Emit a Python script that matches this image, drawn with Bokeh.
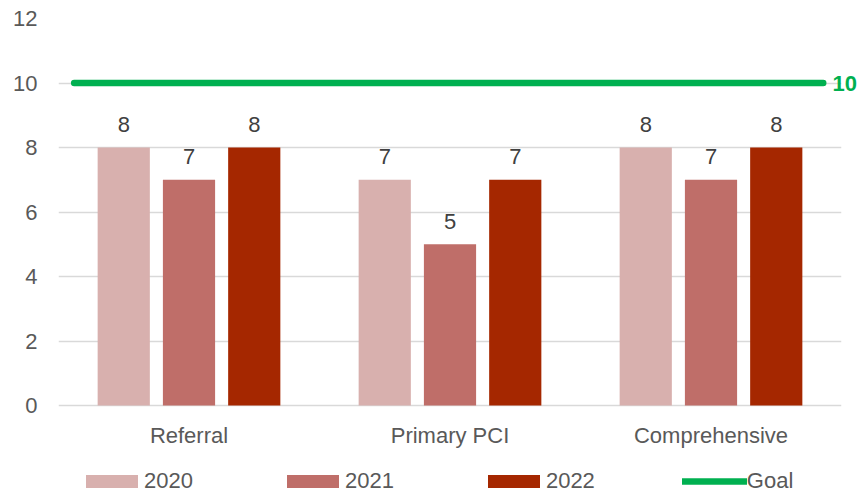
from bokeh.plotting import figure
from bokeh.models import (ColumnDataSource, FactorRange, Legend, LegendItem, Range1d,
                          FixedTicker, LinearAxis)
from bokeh.transform import dodge
from bokeh.core.properties import value
from bokeh.embed import file_html
from bokeh.resources import INLINE

categories = ["Referral", "Primary PCI", "Comprehensive"]
years = ["2020", "2021", "2022"]
values_2020 = [8, 7, 8]
values_2021 = [7, 5, 7]
values_2022 = [8, 7, 8]
goal_value = 10
goal_label = "Goal"
y_ticks = [0, 2, 4, 6, 8, 10, 12]

bar_colors = ["#D8B0AE", "#BF6E69", "#A52700"]
goal_color = "#00B050"
FONT = "Liberation Sans"

# layout (pixels)
W, H = 859, 494
TOP, LEFT, RIGHT = 18, 58, 16
PLOT_H = 387            # height of the 0..12 value area
BELOW = H - TOP - PLOT_H  # space below zero line used for category labels + legend

src = ColumnDataSource(data=dict(
    cat=categories,
    zero=[0] * len(categories),
    v2020=values_2020, v2021=values_2021, v2022=values_2022,
    t2020=[str(v) for v in values_2020],
    t2021=[str(v) for v in values_2021],
    t2022=[str(v) for v in values_2022],
))

y_start = -y_ticks[-1] * BELOW / PLOT_H
p = figure(width=W, height=H, x_range=FactorRange(*categories),
           y_range=Range1d(y_start, y_ticks[-1]),
           x_axis_location=None,
           output_backend="svg", toolbar_location=None,
           min_border_top=TOP, min_border_left=LEFT, min_border_right=RIGHT,
           min_border_bottom=0)
p.outline_line_color = None
p.background_fill_color = "white"

offsets = [-0.25, 0.0, 0.25]
renderers = []
for yr, off, col in zip(years, offsets, bar_colors):
    r = p.vbar(x=dodge("cat", off, range=p.x_range), top="v" + yr, bottom=0,
               width=0.2, source=src, fill_color=col, line_color=None)
    renderers.append(r)
    p.text(x=dodge("cat", off, range=p.x_range), y="v" + yr, text="t" + yr,
           source=src, text_align="center", text_baseline="alphabetic",
           y_offset=-23, text_font=value(FONT), text_font_size="22px",
           text_color="#404040")

# category labels under the zero line
p.text(x="cat", y="zero", text="cat", source=src, text_align="center",
       text_baseline="alphabetic", y_offset=30, text_font=value(FONT),
       text_font_size="22px", text_color="#595959")

goal_r = p.line(x=[(categories[0], -0.44), (categories[-1], 0.43)],
                y=[goal_value, goal_value], line_color=goal_color,
                line_width=6.5, line_cap="round")

# goal value shown as a right-hand axis label
goal_axis = LinearAxis(ticker=FixedTicker(ticks=[goal_value]))
goal_axis.axis_line_color = None
goal_axis.major_tick_line_color = None
goal_axis.minor_tick_line_color = None
goal_axis.major_tick_out = 0
goal_axis.major_label_standoff = -9
goal_axis.major_label_text_font = FONT
goal_axis.major_label_text_font_size = "22px"
goal_axis.major_label_text_font_style = "bold"
goal_axis.major_label_text_color = goal_color
p.add_layout(goal_axis, "right")

yax = p.yaxis[0]
yax.ticker = FixedTicker(ticks=y_ticks)
yax.axis_line_color = None
yax.major_tick_line_color = None
yax.minor_tick_line_color = None
yax.major_tick_out = 0
yax.major_label_standoff = 21
yax.major_label_text_font = FONT
yax.major_label_text_font_size = "22px"
yax.major_label_text_color = "#595959"

p.xgrid.grid_line_color = None
p.ygrid.ticker = FixedTicker(ticks=y_ticks)
p.ygrid.grid_line_color = "#D9D9D9"
p.ygrid.grid_line_width = 1.3

items = [LegendItem(label=yr, renderers=[r]) for yr, r in zip(years, renderers)]
items.append(LegendItem(label=goal_label, renderers=[goal_r]))
legend = Legend(items=items, orientation="horizontal", location=(21, 0),
                padding=0, margin=0, spacing=87, glyph_width=65, glyph_height=16,
                label_height=18, label_standoff=0, label_text_font=FONT,
                label_text_font_size="22px", label_text_color="#595959",
                border_line_color=None, background_fill_alpha=0)
p.add_layout(legend, "center")

open("out.html", "w").write(file_html(p, INLINE))
